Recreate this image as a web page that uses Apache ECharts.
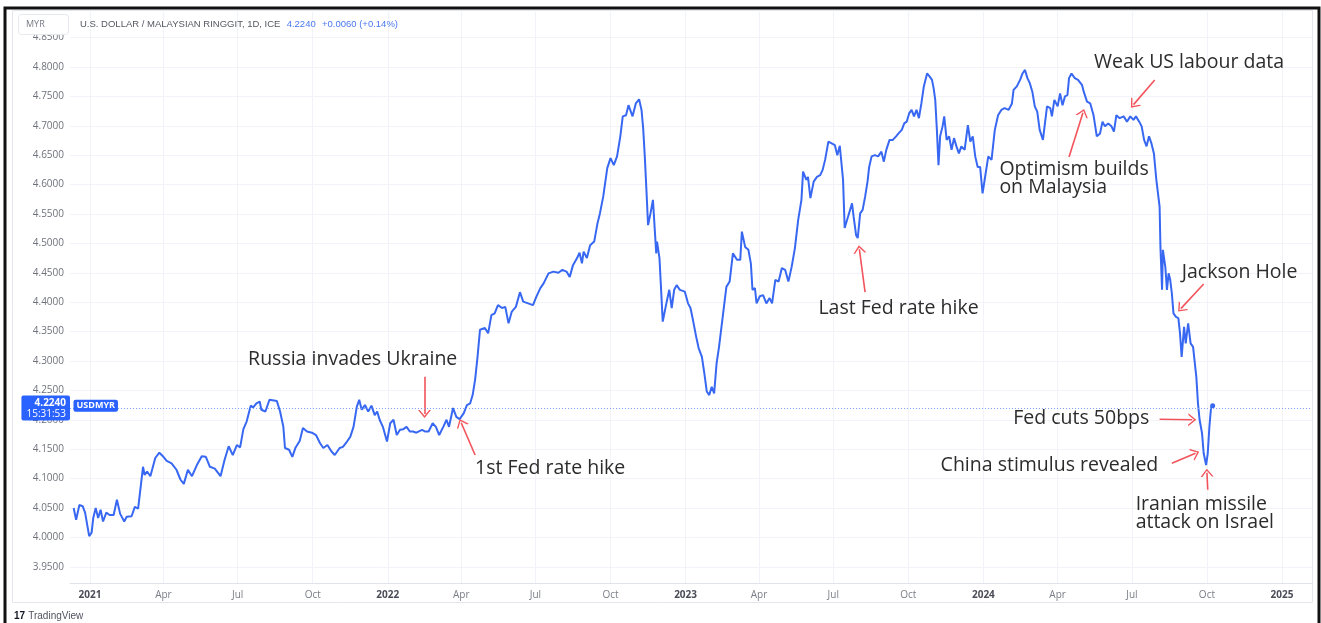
<!DOCTYPE html>
<html><head><meta charset="utf-8">
<script src="https://cdn.jsdelivr.net/npm/echarts@6/dist/echarts.min.js"></script>
<style>html,body{margin:0;padding:0;background:#fff}#c{width:1321px;height:623px}</style>
</head><body><div id="c"></div>
<script>
// ---- DATA ----
const dates = [
'2020-12-12','2020-12-15','2020-12-19','2020-12-23','2020-12-26','2020-12-31',
'2021-01-03','2021-01-05','2021-01-08','2021-01-11','2021-01-14','2021-01-17','2021-01-21','2021-01-25','2021-01-30',
'2021-02-03','2021-02-07','2021-02-12','2021-02-15','2021-02-21','2021-02-25',
'2021-03-01','2021-03-07','2021-03-09','2021-03-12','2021-03-16','2021-03-22','2021-03-27',
'2021-04-01','2021-04-05','2021-04-11','2021-04-17','2021-04-22','2021-04-26',
'2021-05-01','2021-05-06','2021-05-12','2021-05-18','2021-05-23','2021-05-28',
'2021-06-03','2021-06-10','2021-06-15','2021-06-20','2021-06-25','2021-06-30',
'2021-07-04','2021-07-08','2021-07-12','2021-07-17','2021-07-20','2021-07-24','2021-07-28','2021-07-30',
'2021-08-04','2021-08-09','2021-08-18','2021-08-22','2021-08-26','2021-08-28',
'2021-09-02','2021-09-06','2021-09-10','2021-09-15','2021-09-19','2021-09-24','2021-09-30',
'2021-10-05','2021-10-10','2021-10-14','2021-10-19','2021-10-24','2021-10-28',
'2021-11-03','2021-11-07','2021-11-12','2021-11-16','2021-11-20','2021-11-24','2021-11-27','2021-11-30',
'2021-12-04','2021-12-08','2021-12-12','2021-12-16','2021-12-19','2021-12-22','2021-12-26','2021-12-31',
'2022-01-04','2022-01-08','2022-01-12','2022-01-16','2022-01-20','2022-01-24','2022-01-28',
'2022-02-01','2022-02-05','2022-02-12','2022-02-16','2022-02-20','2022-02-25',
'2022-03-01','2022-03-05','2022-03-10','2022-03-14','2022-03-17','2022-03-22','2022-03-26','2022-03-30',
'2022-04-04','2022-04-08','2022-04-12','2022-04-15','2022-04-18','2022-04-21','2022-04-24','2022-04-30',
'2022-05-04','2022-05-08','2022-05-12','2022-05-16','2022-05-21','2022-05-25','2022-05-29',
'2022-06-02','2022-06-07','2022-06-12','2022-06-16','2022-06-22','2022-06-28',
'2022-07-02','2022-07-07','2022-07-11','2022-07-17','2022-07-23','2022-07-29',
'2022-08-03','2022-08-08','2022-08-12','2022-08-16','2022-08-21','2022-08-24','2022-08-27','2022-08-29',
'2022-09-02','2022-09-06','2022-09-11','2022-09-15','2022-09-18','2022-09-22','2022-09-27',
'2022-10-01','2022-10-05','2022-10-09','2022-10-13','2022-10-16','2022-10-20','2022-10-23','2022-10-28',
'2022-11-01','2022-11-05','2022-11-08','2022-11-10','2022-11-12','2022-11-14','2022-11-16','2022-11-19','2022-11-22','2022-11-23','2022-11-26','2022-11-27','2022-11-30',
'2022-12-04','2022-12-08','2022-12-12','2022-12-15','2022-12-18','2022-12-21','2022-12-25','2022-12-31',
'2023-01-04','2023-01-07','2023-01-10','2023-01-14','2023-01-17','2023-01-21','2023-01-24','2023-01-27','2023-01-30',
'2023-02-02','2023-02-05','2023-02-08','2023-02-11','2023-02-14','2023-02-17','2023-02-20','2023-02-24','2023-02-28',
'2023-03-05','2023-03-09','2023-03-11','2023-03-15','2023-03-19','2023-03-22','2023-03-24','2023-03-27','2023-03-29',
'2023-04-02','2023-04-06','2023-04-10','2023-04-14','2023-04-17','2023-04-21','2023-04-25','2023-04-29',
'2023-05-03','2023-05-07','2023-05-11','2023-05-15','2023-05-19','2023-05-23','2023-05-25','2023-05-29','2023-05-31',
'2023-06-03','2023-06-07','2023-06-11','2023-06-15','2023-06-18','2023-06-21','2023-06-25','2023-06-29',
'2023-07-03','2023-07-06','2023-07-09','2023-07-13','2023-07-15','2023-07-19','2023-07-24','2023-07-26','2023-07-29','2023-07-31',
'2023-08-03','2023-08-06','2023-08-09','2023-08-12','2023-08-14','2023-08-17','2023-08-21','2023-08-25','2023-08-29',
'2023-09-01','2023-09-04','2023-09-08','2023-09-12','2023-09-16','2023-09-19','2023-09-23','2023-09-26','2023-09-29',
'2023-10-02','2023-10-05','2023-10-08','2023-10-11','2023-10-14','2023-10-17','2023-10-20','2023-10-24','2023-10-27','2023-10-30',
'2023-11-01','2023-11-03','2023-11-05','2023-11-07','2023-11-09','2023-11-12','2023-11-14','2023-11-17','2023-11-20','2023-11-23','2023-11-26','2023-11-29',
'2023-12-02','2023-12-05','2023-12-09','2023-12-13','2023-12-16','2023-12-19','2023-12-22','2023-12-25','2023-12-28','2023-12-31',
'2024-01-03','2024-01-07','2024-01-11','2024-01-15','2024-01-19','2024-01-23','2024-01-27',
'2024-02-01','2024-02-05','2024-02-07','2024-02-11','2024-02-15','2024-02-18','2024-02-21','2024-02-24','2024-02-27',
'2024-03-01','2024-03-04','2024-03-07','2024-03-10','2024-03-14','2024-03-16','2024-03-19','2024-03-23','2024-03-25','2024-03-28',
'2024-04-01','2024-04-04','2024-04-07','2024-04-10','2024-04-13','2024-04-15','2024-04-18','2024-04-22','2024-04-26',
'2024-05-01','2024-05-03','2024-05-07','2024-05-11','2024-05-15','2024-05-19','2024-05-23','2024-05-26','2024-05-29',
'2024-06-02','2024-06-06','2024-06-09','2024-06-12','2024-06-16','2024-06-21','2024-06-25','2024-06-29',
'2024-07-03','2024-07-06','2024-07-10','2024-07-13','2024-07-16','2024-07-19','2024-07-22','2024-07-25','2024-07-28','2024-07-31',
'2024-08-04','2024-08-05','2024-08-07','2024-08-08','2024-08-11','2024-08-13','2024-08-15','2024-08-17','2024-08-19','2024-08-21','2024-08-24','2024-08-27','2024-08-29','2024-08-31',
'2024-09-03','2024-09-05','2024-09-08','2024-09-11','2024-09-14','2024-09-18','2024-09-20','2024-09-22','2024-09-25','2024-09-27','2024-09-30',
'2024-10-02','2024-10-04','2024-10-06','2024-10-08'
];
const usdmyr = [
4.050,4.030,4.055,4.053,4.042,4.002,
4.008,4.033,4.050,4.033,4.047,4.027,4.042,4.038,4.038,
4.064,4.040,4.027,4.035,4.036,4.052,
4.049,4.120,4.106,4.112,4.104,4.135,4.144,
4.137,4.130,4.126,4.115,4.098,4.091,
4.115,4.104,4.123,4.138,4.137,4.120,
4.117,4.104,4.132,4.155,4.140,4.157,
4.153,4.184,4.197,4.224,4.221,4.228,4.231,4.217,
4.214,4.234,4.232,4.214,4.188,4.152,
4.149,4.137,4.153,4.164,4.186,4.180,4.178,
4.174,4.160,4.152,4.157,4.146,4.140,
4.152,4.154,4.163,4.171,4.188,4.222,4.234,4.217,
4.225,4.214,4.224,4.208,4.214,4.200,4.188,4.163,
4.194,4.200,4.174,4.183,4.184,4.188,4.180,
4.180,4.178,4.183,4.180,4.180,4.194,
4.188,4.174,4.188,4.200,4.188,4.220,4.205,4.201,
4.211,4.225,4.228,4.242,4.268,4.307,4.353,4.356,
4.347,4.378,4.381,4.395,4.390,4.392,4.364,
4.384,4.392,4.417,4.401,4.398,4.395,
4.409,4.424,4.432,4.449,4.452,4.450,
4.455,4.452,4.443,4.463,4.475,4.484,4.466,4.486,
4.475,4.497,4.503,4.534,4.551,4.579,4.628,
4.645,4.633,4.648,4.682,4.716,4.718,4.735,4.716,
4.738,4.745,4.727,4.696,4.648,4.591,4.531,4.551,4.574,4.574,4.483,4.503,4.475,
4.367,4.395,4.421,4.390,4.421,4.429,4.421,4.418,
4.398,4.390,4.370,4.341,4.322,4.307,4.279,4.248,4.242,
4.256,4.245,4.296,4.324,4.358,4.392,4.426,4.435,4.483,
4.472,4.472,4.520,4.494,4.489,4.466,4.421,4.424,4.398,
4.410,4.412,4.398,4.407,4.398,4.438,4.435,4.458,
4.455,4.435,4.460,4.492,4.540,4.574,4.622,4.608,4.613,
4.577,4.605,4.613,4.616,4.625,4.642,4.673,4.670,
4.667,4.650,4.666,4.608,4.526,4.545,4.568,4.545,4.514,4.509,
4.551,4.557,4.579,4.605,4.630,4.648,4.650,4.648,4.656,
4.639,4.659,4.676,4.676,4.682,4.687,4.693,4.704,4.707,
4.721,4.727,4.716,4.727,4.713,4.738,4.767,4.789,4.784,4.778,
4.764,4.744,4.693,4.633,4.682,4.699,4.716,4.676,4.682,4.659,4.679,4.665,
4.653,4.665,4.659,4.701,4.673,4.682,4.648,4.630,4.630,4.585,
4.612,4.648,4.642,4.693,4.718,4.727,4.730,
4.727,4.738,4.761,4.767,4.778,4.789,4.795,4.781,4.772,
4.758,4.733,4.724,4.693,4.676,4.699,4.733,4.730,4.716,4.744,
4.733,4.755,4.735,4.750,4.752,4.781,4.789,4.781,4.778,
4.769,4.758,4.741,4.738,4.718,4.682,4.687,4.707,4.699,
4.704,4.699,4.690,4.718,4.713,4.716,4.707,4.716,
4.710,4.716,4.707,4.699,4.676,4.665,4.682,4.670,4.653,4.608,
4.562,4.494,4.421,4.489,4.460,4.421,4.449,4.438,4.415,4.381,4.375,4.373,4.347,4.307,
4.358,4.330,4.364,4.330,4.324,4.273,4.228,4.200,4.177,4.143,4.123,
4.143,4.188,4.220,4.224
];
const yTicks = [3.95,4.00,4.05,4.10,4.15,4.20,4.25,4.30,4.35,4.40,4.45,4.50,4.55,4.60,4.65,4.70,4.75,4.80,4.85];
const xTicks = ['2021-01-01','2021-04-01','2021-07-01','2021-10-01','2022-01-01','2022-04-01','2022-07-01','2022-10-01',
  '2023-01-01','2023-04-01','2023-07-01','2023-10-01','2024-01-01','2024-04-01','2024-07-01','2024-10-01','2025-01-01'];
const monthNames = ['Jan','Feb','Mar','Apr','May','Jun','Jul','Aug','Sep','Oct','Nov','Dec'];
const xRange = ['2020-12-07T12:00:00','2025-02-08T00:00:00'];
const yRange = [3.9224, 4.8935];
const symbolName = 'USDMYR';
const titleText = 'U.S. DOLLAR / MALAYSIAN RINGGIT, 1D, ICE';
const changeText = '+0.0060 (+0.14%)';
const clockText = '15:31:53';
// annotation texts: [text, anchorDate, anchorValue, alignment]
const eventTexts = [
  ['Russia invades Ukraine', '2021-11-19', 4.302, 'center'],
  ['1st Fed rate hike', '2022-07-19', 4.118, 'center'],
  ['Last Fed rate hike', '2023-09-19', 4.390, 'center'],
  ['Optimism builds\non Malaysia', '2024-01-20', 4.610, 'left'],
  ['Weak US labour data', '2024-05-15', 4.807, 'left'],
  ['Jackson Hole', '2024-11-10', 4.451, 'center'],
  ['Fed cuts 50bps', '2024-07-23', 4.203, 'right'],
  ['China stimulus revealed', '2024-08-03', 4.123, 'right'],
  ['Iranian missile\nattack on Israel', '2024-07-05', 4.041, 'left']
];
// arrows: [fromDate, fromValue, toDate, toValue]
const eventArrows = [
  ['2022-02-15', 4.273, '2022-02-15', 4.210],
  ['2022-04-18', 4.140, '2022-04-01', 4.195],
  ['2023-08-09', 4.417, '2023-08-02', 4.490],
  ['2024-04-15', 4.647, '2024-05-02', 4.722],
  ['2024-07-29', 4.778, '2024-07-03', 4.736],
  ['2024-09-27', 4.431, '2024-08-30', 4.389],
  ['2024-08-04', 4.201, '2024-09-13', 4.200],
  ['2024-08-19', 4.126, '2024-09-17', 4.143],
  ['2024-10-02', 4.081, '2024-10-01', 4.110]
];

// ---- CHART ----
const toTs = s => new Date(s.length > 10 ? s : s + 'T00:00:00').getTime();
const lineColor = '#3868f2';
const tagColor = '#2962ff';
const arrowColor = '#f2545b';
const chevron = 'path://M0,10 L6,0 L12,10 L10.4,10 L6,2.7 L1.6,10 Z';
const lastValue = usdmyr[usdmyr.length - 1];
const lastDate = dates[dates.length - 1];
const seriesData = dates.map((d, i) => [toTs(d), usdmyr[i]]);
const xMin = toTs(xRange[0]), xMax = toTs(xRange[1]);
const xTickTs = xTicks.map(toTs);

const chart = echarts.init(document.getElementById('c'));
const posMap = {center: 'inside', left: 'right', right: 'left'};
const markPoints = eventTexts.map(e => ({
  coord: [toTs(e[1]), e[2]], symbol: 'circle', symbolSize: 1, itemStyle: {color: 'rgba(0,0,0,0)'},
  label: {show: true, formatter: e[0], position: posMap[e[3]], distance: 0, align: e[3],
    color: '#2c2c2c', fontSize: 19.5, lineHeight: 18, fontFamily: 'Open Sans, Noto Sans, sans-serif'}
}));
markPoints.push({coord: [toTs(lastDate), lastValue], symbol: 'circle', symbolSize: 5, itemStyle: {color: lineColor}, label: {show: false}});
markPoints.push({coord: [xMin, lastValue], symbol: 'circle', symbolSize: 1, itemStyle: {color: 'rgba(0,0,0,0)'},
  label: {show: true, formatter: symbolName, position: 'right', distance: 3, color: '#fff', backgroundColor: tagColor,
    fontSize: 9, fontWeight: 'bold', padding: [2, 3, 1, 3], borderRadius: 2, fontFamily: 'Open Sans, sans-serif'}});

const markLines = eventArrows.map(a => [
  {coord: [toTs(a[0]), a[1]], symbol: 'none'},
  {coord: [toTs(a[2]), a[3]], symbol: chevron, symbolSize: [13, 8]}
]);
markLines.push({yAxis: lastValue, symbol: 'none',
  lineStyle: {type: [1, 2], color: '#7fa2f7', width: 1},
  label: {show: true, position: 'start', distance: 0,
    formatter: '{a|' + lastValue.toFixed(4) + '}\n{b|' + clockText + '}',
    backgroundColor: tagColor, padding: [2, 4, 1, 5], borderRadius: 2,
    rich: {a: {color: '#fff', fontSize: 10, fontWeight: 'bold', align: 'right', lineHeight: 11, fontFamily: 'Open Sans, sans-serif'},
           b: {color: '#fff', fontSize: 10, align: 'right', lineHeight: 11, fontFamily: 'Open Sans, sans-serif'}}}
});

chart.setOption({
  animation: false,
  textStyle: {fontFamily: 'Open Sans, Noto Sans, sans-serif'},
  grid: {left: 70, right: 8, top: 12, bottom: 40},
  xAxis: {
    type: 'value', min: xMin, max: xMax,
    axisLine: {show: true, lineStyle: {color: '#e0e3eb'}},
    axisTick: {show: false, customValues: xTickTs},
    splitLine: {show: true, lineStyle: {color: '#f1f3f8'}},
    axisLabel: {
      customValues: xTickTs, margin: 7, fontSize: 10, color: '#7a7d87', hideOverlap: false,
      formatter: v => { const d = new Date(v); return d.getMonth() === 0 ? '{y|' + d.getFullYear() + '}' : monthNames[d.getMonth()]; },
      rich: {y: {fontWeight: 'bold', color: '#4a4d57', fontSize: 10}}
    }
  },
  yAxis: {
    type: 'value', min: yRange[0], max: yRange[1], position: 'left',
    axisLine: {show: false}, axisTick: {show: false, customValues: yTicks},
    splitLine: {show: true, lineStyle: {color: '#f1f3f8'}},
    axisLabel: {customValues: yTicks, formatter: v => v.toFixed(4), color: '#6f727c', fontSize: 10, margin: 6}
  },
  series: [{
    type: 'line', name: symbolName, data: seriesData, showSymbol: false, symbol: 'none', silent: true,
    lineStyle: {color: lineColor, width: 2}, itemStyle: {color: lineColor},
    markLine: {silent: true, symbol: 'none', label: {show: false}, lineStyle: {color: arrowColor, width: 1.6, type: 'solid'},
      emphasis: {disabled: true}, data: markLines},
    markPoint: {silent: true, data: markPoints}
  }],
  graphic: [
    {type: 'rect', z: 100, shape: {x: 12.5, y: 10.5, width: 1300, height: 592}, style: {fill: 'none', stroke: '#e3e6ec', lineWidth: 1}},
    {type: 'rect', z: 101, shape: {x: 5, y: 8, width: 1314, height: 640}, style: {fill: 'none', stroke: '#111', lineWidth: 3}},
    {type: 'rect', z: 100, shape: {x: 18.5, y: 14.5, width: 50, height: 20, r: 3}, style: {fill: '#fff', stroke: '#e6e8ee', lineWidth: 1}},
    {type: 'text', z: 101, x: 26, y: 24.5, style: {text: 'MYR', fill: '#787b86', fontSize: 9, verticalAlign: 'middle', fontFamily: 'Open Sans, sans-serif'}},
    {type: 'text', z: 101, x: 80, y: 24, style: {
      text: '{t|' + titleText + '}  {b|' + lastValue.toFixed(4) + '}  {b|' + changeText + '}',
      verticalAlign: 'middle', fontFamily: 'Open Sans, sans-serif',
      rich: {t: {fill: '#555862', fontSize: 9.5}, b: {fill: '#4a78f0', fontSize: 9.5}}}},
    {type: 'text', z: 101, x: 14, y: 616, style: {
      text: '{l|17} {t|TradingView}', verticalAlign: 'middle', fontFamily: 'Open Sans, sans-serif',
      rich: {l: {fill: '#131722', fontSize: 10, fontWeight: 'bold'}, t: {fill: '#50535e', fontSize: 10}}}}
  ]
});
</script></body></html>
